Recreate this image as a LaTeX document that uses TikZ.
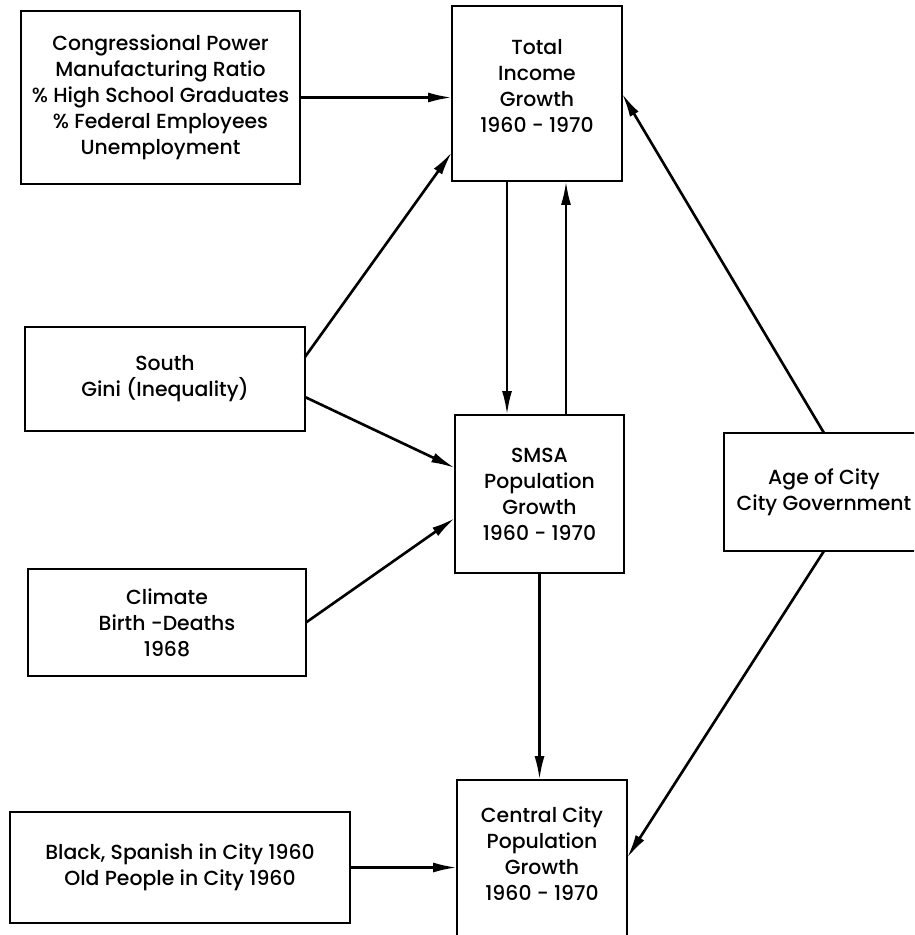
\documentclass[tikz,border=0pt]{standalone}
\usepackage{fontspec}
\IfFontExistsTF{Poppins Medium}
	{\newfontfamily\boxfont{Poppins Medium}}
	{\newfontfamily\boxfont{Poppins}[FakeBold=1.6]}
\usetikzlibrary{arrows.meta}

\begin{document}
\begin{tikzpicture}[x=0.02cm, y=-0.02cm,
		box/.style={draw, line width=1.3pt, inner sep=0pt, outer sep=0pt, align=center,
			font=\boxfont\fontsize{11.6}{14.8}\selectfont},
		link/.style={line width=1.5pt, -{Latex[length=4.8mm, width=2mm]}}]
		\clip (0,0) rectangle (914,935);

		% causes on the left
		\node [box, minimum width=5.58cm, minimum height=3.46cm] (cong) at (160.5,97.5)
			{Congressional Power\\Manufacturing Ratio\\\% High School Graduates\\\% Federal Employees\\Unemployment};
		\node [box, minimum width=5.6cm, minimum height=2.08cm] (south) at (165,379)
			{South\\Gini (Inequality)};
		\node [box, minimum width=5.56cm, minimum height=2.14cm] (climate) at (167,622.5)
			{Climate\\Birth -Deaths\\1968};
		\node [box, minimum width=6.8cm, minimum height=2.22cm] (black) at (180,867.5)
			{Black, Spanish in City 1960\\Old People in City 1960};

		% growth variables in the middle
		\node [box, minimum width=3.4cm, minimum height=3.5cm] (income) at (537,93.5)
			{Total\\Income\\Growth\\1960 - 1970\\[-0.2cm]};
		\node [box, minimum width=3.38cm, minimum height=3.16cm] (smsa) at (539.5,494)
			{SMSA\\Population\\Growth\\1960 - 1970};
		\node [box, minimum width=3.4cm, minimum height=3.28cm] (central) at (542,862)
			{Central City\\Population\\Growth\\1960 - 1970\\[-0.2cm]};

		% right hand box, runs off the page
		\node [box, minimum width=4.0cm, minimum height=2.36cm] (ageCity) at (824,492)
			{Age of City\\City Government};

		% arrows into total income
		\draw [link] (cong.east) -- (cong.east -| income.west);
		\draw [link] ([yshift=0.44cm]south.east) -- ([yshift=-1.17cm]income.west);
		\draw [link] (ageCity.north) -- (income.east);

		% arrows into SMSA
		\draw [link] ([yshift=-0.36cm]south.east) -- ([yshift=0.52cm]smsa.west);
		\draw [link] (climate.east) -- ([yshift=-0.48cm]smsa.west);
		\draw [link] ([xshift=-0.6cm]income.south) -- ([xshift=-0.6cm]income.south |- smsa.north);
		\draw [link] ([xshift=0.53cm]smsa.north) -- ([xshift=0.53cm]smsa.north |- income.south);

		% arrows into central city
		\draw [link] (smsa.south) -- (smsa.south |- central.north);
		\draw [link] (ageCity.south) -- ([yshift=0.08cm]central.east);
		\draw [link] (black.east) -- (black.east -| central.west);
	\end{tikzpicture}
\end{document}
